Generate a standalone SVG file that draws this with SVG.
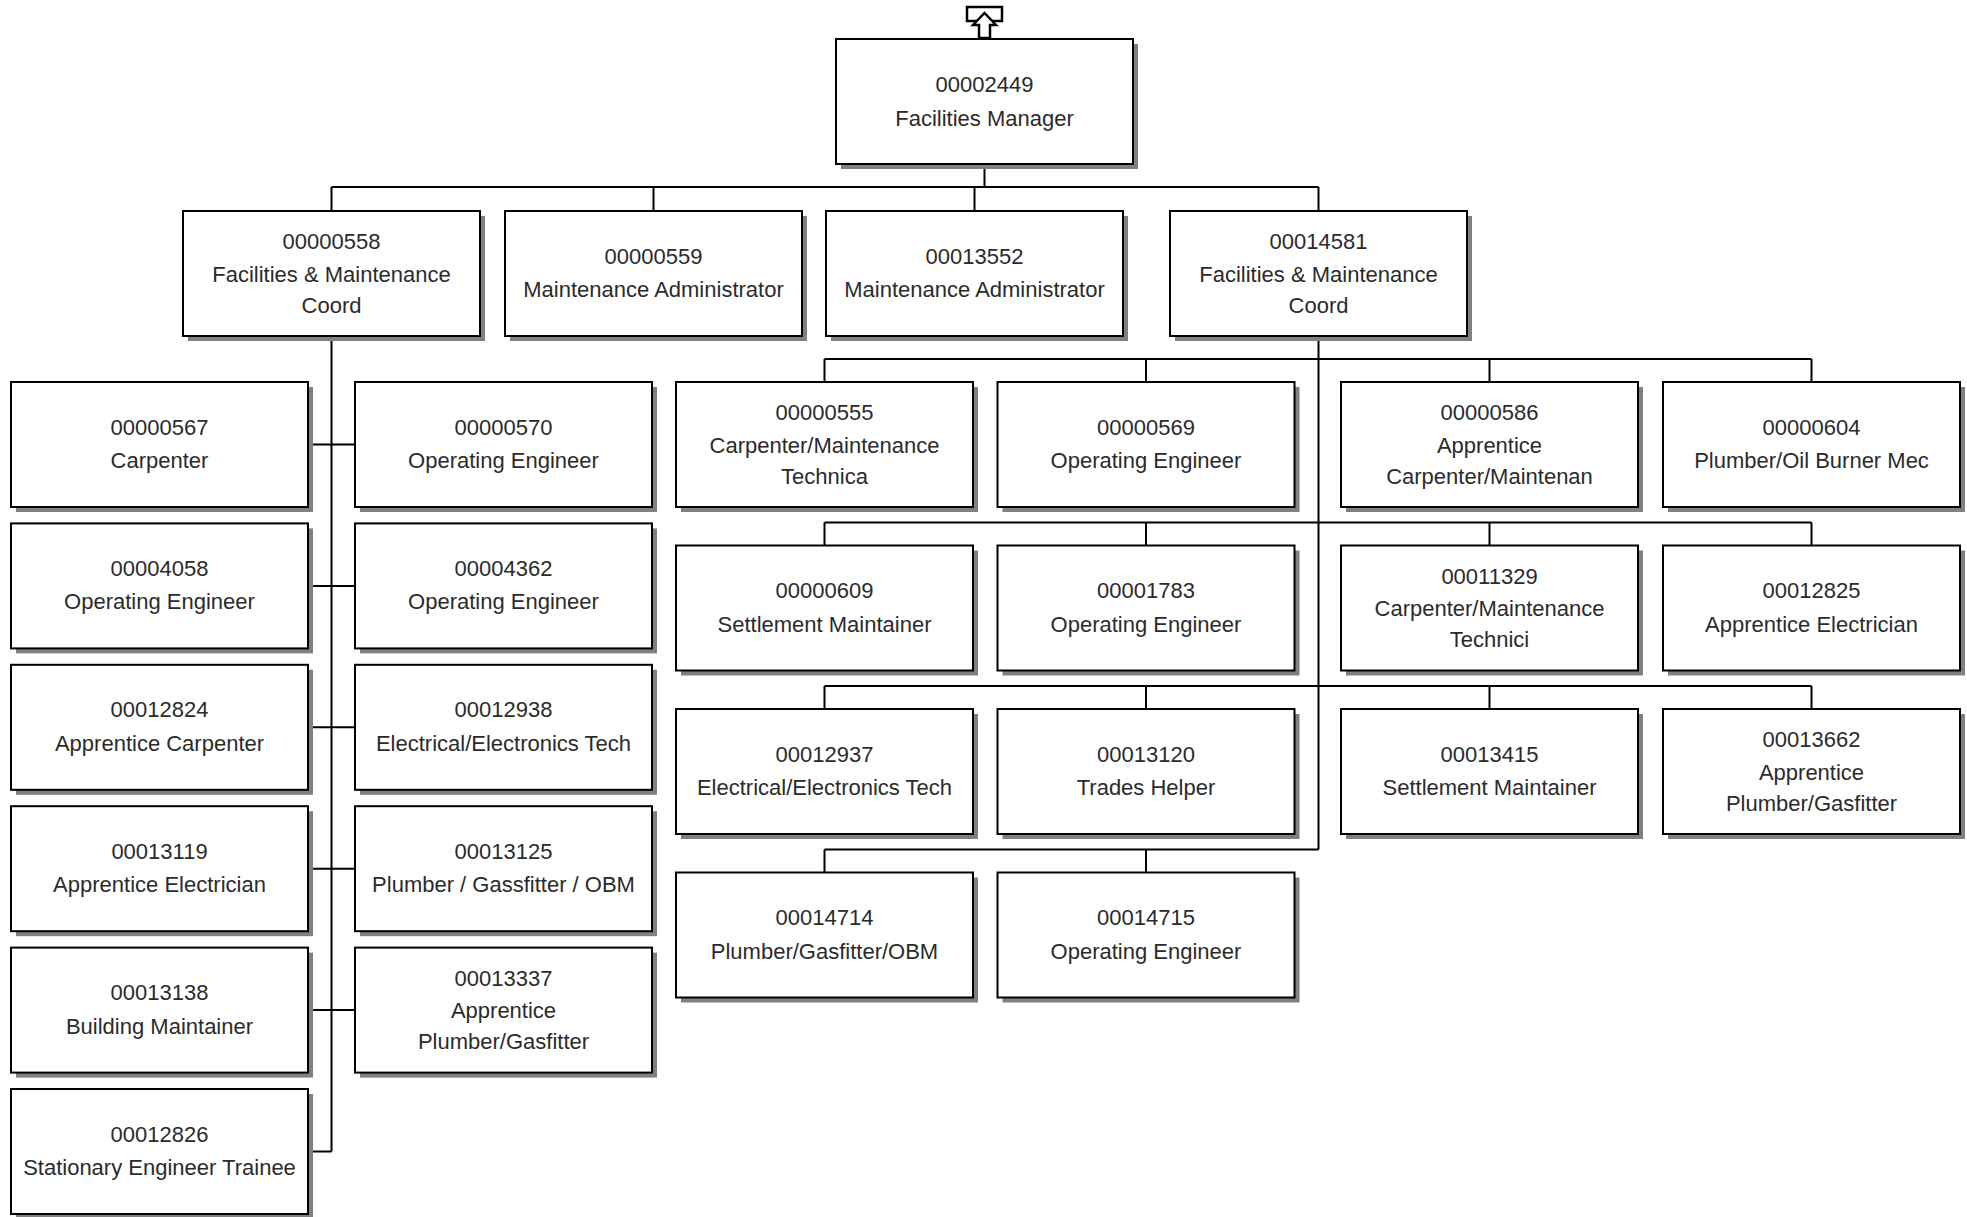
<svg xmlns="http://www.w3.org/2000/svg" xmlns:xlink="http://www.w3.org/1999/xlink" width="1967" height="1217" viewBox="0 0 1967 1217">
<style>
.sh{fill:#808080}
.box{fill:#fff;stroke:#000;stroke-width:2}
.t{font-family:"Liberation Sans",Arial,sans-serif;font-size:22px;fill:#2b2b2b;text-anchor:middle}
.con{fill:none;stroke:#000;stroke-width:2}
.ico{fill:#fff;stroke:#000;stroke-width:2.5}
</style>
<defs>
<g id="card"><rect class="sh" x="5" y="5" width="297" height="125"/><rect class="box" x="0" y="0" width="297" height="125"/></g>
</defs>
<rect width="1967" height="1217" fill="#fff"/>
<g id="connectors" class="con">
<path d="M984.5 164V187M331.5 187H1318.5M331.5 187V211M653.5 187V211M974.5 187V211M1318.5 187V211"/>
<path d="M331.5 336V1151.5M308 444.5H355M308 585.9H355M308 727.3H355M308 868.7H355M308 1010.1H355M308 1151.5H331.5"/>
<path d="M1318.5 336V849.5M824.5 359H1811.5M824.5 359V382M1146 359V382M1489.5 359V382M1811.5 359V382M824.5 522.5H1811.5M824.5 522.5V545.5M1146 522.5V545.5M1489.5 522.5V545.5M1811.5 522.5V545.5M824.5 686H1811.5M824.5 686V709M1146 686V709M1489.5 686V709M1811.5 686V709M824.5 849.5H1318.5M824.5 849.5V872.5M1146 849.5V872.5"/>
</g>
<g id="up-icon">
<rect class="ico" x="967" y="7" width="35" height="14"/>
<polygon class="ico" points="984.5,13 996,25 990,25 990,38 979,38 979,25 973,25"/>
</g>
<g id="n00002449" transform="translate(836,39)"><use xlink:href="#card"/><text class="t" x="148.5" y="52.5">00002449</text><text class="t" x="148.5" y="86.5">Facilities Manager</text></g>
<g id="n00000558" transform="translate(183,211)"><use xlink:href="#card"/><text class="t" x="148.5" y="38">00000558</text><text class="t" x="148.5" y="70.5">Facilities &amp; Maintenance</text><text class="t" x="148.5" y="101.5">Coord</text></g>
<g id="n00000559" transform="translate(505,211)"><use xlink:href="#card"/><text class="t" x="148.5" y="52.5">00000559</text><text class="t" x="148.5" y="86">Maintenance Administrator</text></g>
<g id="n00013552" transform="translate(826,211)"><use xlink:href="#card"/><text class="t" x="148.5" y="52.5">00013552</text><text class="t" x="148.5" y="86">Maintenance Administrator</text></g>
<g id="n00014581" transform="translate(1170,211)"><use xlink:href="#card"/><text class="t" x="148.5" y="38">00014581</text><text class="t" x="148.5" y="70.5">Facilities &amp; Maintenance</text><text class="t" x="148.5" y="101.5">Coord</text></g>
<g id="n00000567" transform="translate(11,382)"><use xlink:href="#card"/><text class="t" x="148.5" y="52.5">00000567</text><text class="t" x="148.5" y="86">Carpenter</text></g>
<g id="n00000570" transform="translate(355,382)"><use xlink:href="#card"/><text class="t" x="148.5" y="52.5">00000570</text><text class="t" x="148.5" y="86">Operating Engineer</text></g>
<g id="n00004058" transform="translate(11,523.4)"><use xlink:href="#card"/><text class="t" x="148.5" y="52.5">00004058</text><text class="t" x="148.5" y="86">Operating Engineer</text></g>
<g id="n00004362" transform="translate(355,523.4)"><use xlink:href="#card"/><text class="t" x="148.5" y="52.5">00004362</text><text class="t" x="148.5" y="86">Operating Engineer</text></g>
<g id="n00012824" transform="translate(11,664.8)"><use xlink:href="#card"/><text class="t" x="148.5" y="52.5">00012824</text><text class="t" x="148.5" y="86">Apprentice Carpenter</text></g>
<g id="n00012938" transform="translate(355,664.8)"><use xlink:href="#card"/><text class="t" x="148.5" y="52.5">00012938</text><text class="t" x="148.5" y="86">Electrical/Electronics Tech</text></g>
<g id="n00013119" transform="translate(11,806.2)"><use xlink:href="#card"/><text class="t" x="148.5" y="52.5">00013119</text><text class="t" x="148.5" y="86">Apprentice Electrician</text></g>
<g id="n00013125" transform="translate(355,806.2)"><use xlink:href="#card"/><text class="t" x="148.5" y="52.5">00013125</text><text class="t" x="148.5" y="86">Plumber / Gassfitter / OBM</text></g>
<g id="n00013138" transform="translate(11,947.6)"><use xlink:href="#card"/><text class="t" x="148.5" y="52.5">00013138</text><text class="t" x="148.5" y="86">Building Maintainer</text></g>
<g id="n00013337" transform="translate(355,947.6)"><use xlink:href="#card"/><text class="t" x="148.5" y="38">00013337</text><text class="t" x="148.5" y="70.5">Apprentice</text><text class="t" x="148.5" y="101.5">Plumber/Gasfitter</text></g>
<g id="n00012826" transform="translate(11,1089)"><use xlink:href="#card"/><text class="t" x="148.5" y="52.5">00012826</text><text class="t" x="148.5" y="86">Stationary Engineer Trainee</text></g>
<g id="n00000555" transform="translate(676,382)"><use xlink:href="#card"/><text class="t" x="148.5" y="38">00000555</text><text class="t" x="148.5" y="70.5">Carpenter/Maintenance</text><text class="t" x="148.5" y="101.5">Technica</text></g>
<g id="n00000569" transform="translate(997.5,382)"><use xlink:href="#card"/><text class="t" x="148.5" y="52.5">00000569</text><text class="t" x="148.5" y="86">Operating Engineer</text></g>
<g id="n00000586" transform="translate(1341,382)"><use xlink:href="#card"/><text class="t" x="148.5" y="38">00000586</text><text class="t" x="148.5" y="70.5">Apprentice</text><text class="t" x="148.5" y="101.5">Carpenter/Maintenan</text></g>
<g id="n00000604" transform="translate(1663,382)"><use xlink:href="#card"/><text class="t" x="148.5" y="52.5">00000604</text><text class="t" x="148.5" y="86">Plumber/Oil Burner Mec</text></g>
<g id="n00000609" transform="translate(676,545.5)"><use xlink:href="#card"/><text class="t" x="148.5" y="52.5">00000609</text><text class="t" x="148.5" y="86">Settlement Maintainer</text></g>
<g id="n00001783" transform="translate(997.5,545.5)"><use xlink:href="#card"/><text class="t" x="148.5" y="52.5">00001783</text><text class="t" x="148.5" y="86">Operating Engineer</text></g>
<g id="n00011329" transform="translate(1341,545.5)"><use xlink:href="#card"/><text class="t" x="148.5" y="38">00011329</text><text class="t" x="148.5" y="70.5">Carpenter/Maintenance</text><text class="t" x="148.5" y="101.5">Technici</text></g>
<g id="n00012825" transform="translate(1663,545.5)"><use xlink:href="#card"/><text class="t" x="148.5" y="52.5">00012825</text><text class="t" x="148.5" y="86">Apprentice Electrician</text></g>
<g id="n00012937" transform="translate(676,709)"><use xlink:href="#card"/><text class="t" x="148.5" y="52.5">00012937</text><text class="t" x="148.5" y="86">Electrical/Electronics Tech</text></g>
<g id="n00013120" transform="translate(997.5,709)"><use xlink:href="#card"/><text class="t" x="148.5" y="52.5">00013120</text><text class="t" x="148.5" y="86">Trades Helper</text></g>
<g id="n00013415" transform="translate(1341,709)"><use xlink:href="#card"/><text class="t" x="148.5" y="52.5">00013415</text><text class="t" x="148.5" y="86">Settlement Maintainer</text></g>
<g id="n00013662" transform="translate(1663,709)"><use xlink:href="#card"/><text class="t" x="148.5" y="38">00013662</text><text class="t" x="148.5" y="70.5">Apprentice</text><text class="t" x="148.5" y="101.5">Plumber/Gasfitter</text></g>
<g id="n00014714" transform="translate(676,872.5)"><use xlink:href="#card"/><text class="t" x="148.5" y="52.5">00014714</text><text class="t" x="148.5" y="86">Plumber/Gasfitter/OBM</text></g>
<g id="n00014715" transform="translate(997.5,872.5)"><use xlink:href="#card"/><text class="t" x="148.5" y="52.5">00014715</text><text class="t" x="148.5" y="86">Operating Engineer</text></g>
</svg>
